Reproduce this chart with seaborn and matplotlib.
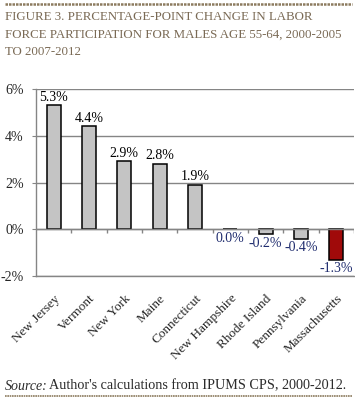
import matplotlib
matplotlib.use("Agg")
import matplotlib.pyplot as plt
import seaborn as sns
import pandas as pd

states = ["New Jersey", "Vermont", "New York", "Maine", "Connecticut",
          "New Hampshire", "Rhode Island", "Pennsylvania", "Massachusetts"]
change = [5.3, 4.4, 2.9, 2.8, 1.9, 0.0, -0.2, -0.4, -1.3]
highlight = "Massachusetts"

title_lines = ["FIGURE 3. PERCENTAGE-POINT CHANGE IN LABOR",
               "FORCE PARTICIPATION FOR MALES AGE 55-64, 2000-2005",
               "TO 2007-2012"]

df = pd.DataFrame({"state": states, "change": change})
bar_colors = {s: ("#a00a0a" if s == highlight else "#c4c4c4") for s in states}

sns.set_style("white")
plt.rcParams["font.family"] = ["Liberation Serif", "DejaVu Serif"]

fig = plt.figure(figsize=(3.55, 3.99), dpi=100)
ax = fig.add_axes([36 / 355, 1 - 276 / 399, 318 / 355, 187 / 399])

sns.barplot(data=df, x="state", y="change", hue="state", palette=bar_colors,
            order=states, legend=False, width=0.4, edgecolor="black",
            linewidth=1.1, saturation=1, ax=ax)

grid_c = "#858585"
ax.set_ylim(-2, 6)
ax.set_xlim(-0.5, len(states) - 0.5)
ax.set_yticks([-2, 0, 2, 4, 6])
ax.set_yticklabels(["-2%", "0%", "2%", "4%", "6%"])
ax.yaxis.grid(True, color=grid_c, linewidth=1)
ax.set_axisbelow(True)
for side in ["top", "right"]:
    ax.spines[side].set_visible(False)
for side in ["left", "bottom"]:
    ax.spines[side].set_color(grid_c)
    ax.spines[side].set_linewidth(1)
ax.tick_params(axis="y", length=3, color=grid_c, labelsize=10, pad=6,
               direction="out", left=True)
ax.tick_params(axis="x", length=0, labelsize=9.5, pad=12)
plt.setp(ax.get_xticklabels(), rotation=45, ha="right", rotation_mode="anchor")
ax.set_xlabel("")
ax.set_ylabel("")

# zero line with tick marks between categories
ax.axhline(0, color=grid_c, linewidth=1, zorder=1)
bounds = [i + 0.5 for i in range(len(states))]
ax.vlines(bounds, -0.17, 0, color=grid_c, linewidth=1, zorder=1)

for i, v in enumerate(change):
    if v > 0:
        ax.annotate(f"{v:.1f}%", (i, v), xytext=(0, 1), textcoords="offset points",
                    ha="center", va="bottom", fontsize=10, color="black")
    else:
        ax.annotate(f"{v:.1f}%", (i, v), xytext=(0, -2), textcoords="offset points",
                    ha="center", va="top", fontsize=10, color="#1f2c6e")

# title block
rule_c = "#8c7b5f"
fig.add_artist(plt.Line2D([5 / 355, 352 / 355], [1 - 4 / 399, 1 - 4 / 399],
                          color=rule_c, linewidth=1.8, linestyle=(0, (1, 0.4))))
for k, line in enumerate(title_lines):
    fig.text(5 / 355, 1 - (17 + 17.5 * k) / 399, line, ha="left", va="center",
             fontsize=9.3, color="#7a6a55")

# source line
fig.canvas.draw()
r = fig.canvas.get_renderer()
src_y = 1 - 386 / 399
t1 = fig.text(5 / 355, src_y, "Source:", style="italic", fontsize=10,
              color="#2b2b2b", ha="left", va="center")
bb = t1.get_window_extent(renderer=r)
fig.text(bb.x1 / fig.bbox.width + 1.5 / 355, src_y,
         "Author's calculations from IPUMS CPS, 2000-2012.", fontsize=10.2,
         color="#2b2b2b", ha="left", va="center")
fig.add_artist(plt.Line2D([5 / 355, 352 / 355], [1 - 396 / 399, 1 - 396 / 399],
                          color=rule_c, linewidth=1.2, linestyle=(0, (1, 0.4))))

fig.savefig("out.png", dpi=100)
